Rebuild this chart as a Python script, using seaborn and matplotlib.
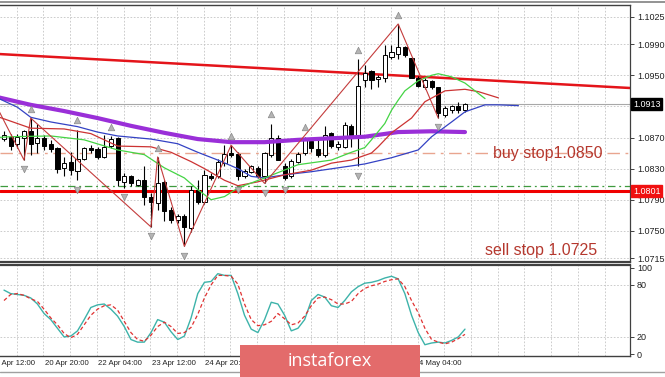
import numpy as np
import pandas as pd
import seaborn as sns
import matplotlib.pyplot as plt
from matplotlib.patches import Rectangle
from matplotlib.lines import Line2D

sns.set_theme(style='white')
plt.rcParams['font.family'] = ['Liberation Sans', 'DejaVu Sans']

# EURUSD H4 candles
opens = [1.0868, 1.0871, 1.0862, 1.0870, 1.0878, 1.0863, 1.0869, 1.0862, 1.0856, 1.0831,
         1.0838, 1.0827, 1.0843, 1.0857, 1.0855, 1.0845, 1.0859, 1.0869, 1.0813, 1.0820,
         1.0809, 1.0815, 1.0794, 1.0786, 1.0813, 1.0777, 1.0764, 1.0769, 1.0753, 1.0803,
         1.0787, 1.0821, 1.0820, 1.0837, 1.0850, 1.0849, 1.0820, 1.0826, 1.0831, 1.0820,
         1.0848, 1.0870, 1.0833, 1.0820, 1.0839, 1.0850, 1.0865, 1.0855, 1.0848, 1.0876,
         1.0858, 1.0858, 1.0885, 1.0873, 1.0944, 1.0955, 1.0945, 1.0947, 1.0973, 1.0978,
         1.0987, 1.0972, 1.0947, 1.0935, 1.0943, 1.0935, 1.0899, 1.0905, 1.0911, 1.0906]
highs = [1.0878, 1.0875, 1.0875, 1.0880, 1.0895, 1.0888, 1.0873, 1.0867, 1.0858, 1.0845,
         1.0852, 1.0880, 1.0858, 1.0860, 1.0858, 1.0873, 1.0872, 1.0871, 1.0824, 1.0822,
         1.0817, 1.0833, 1.0798, 1.0845, 1.0815, 1.0781, 1.0772, 1.0772, 1.0807, 1.0815,
         1.0828, 1.0824, 1.0843, 1.0860, 1.0860, 1.0852, 1.0830, 1.0835, 1.0833, 1.0852,
         1.0888, 1.0873, 1.0837, 1.0842, 1.0852, 1.0871, 1.0869, 1.0867, 1.0885, 1.0877,
         1.0865, 1.0890, 1.0887, 1.0971, 1.0963, 1.0957, 1.0951, 1.0989, 1.0989, 1.1016,
         1.0988, 1.0974, 1.0949, 1.0946, 1.0944, 1.0935, 1.0910, 1.0912, 1.0916, 1.0914]
lows = [1.0865, 1.0854, 1.0856, 1.0841, 1.0848, 1.0850, 1.0854, 1.0852, 1.0824, 1.0820,
        1.0822, 1.0815, 1.0841, 1.0850, 1.0843, 1.0844, 1.0856, 1.0807, 1.0805, 1.0807,
        1.0807, 1.0783, 1.0755, 1.0777, 1.0762, 1.0760, 1.0760, 1.0730, 1.0749, 1.0785,
        1.0785, 1.0815, 1.0818, 1.0833, 1.0845, 1.0815, 1.0818, 1.0824, 1.0818, 1.0811,
        1.0845, 1.0841, 1.0815, 1.0818, 1.0837, 1.0848, 1.0852, 1.0845, 1.0845, 1.0856,
        1.0854, 1.0856, 1.0858, 1.0833, 1.0935, 1.0933, 1.0935, 1.0942, 1.0971, 1.0971,
        1.0973, 1.0946, 1.0935, 1.0933, 1.0932, 1.0895, 1.0896, 1.0901, 1.0901, 1.0903]
closes = [1.0873, 1.0859, 1.0871, 1.0878, 1.0862, 1.0870, 1.0859, 1.0855, 1.0830, 1.0837,
          1.0828, 1.0843, 1.0856, 1.0854, 1.0845, 1.0858, 1.0868, 1.0815, 1.0821, 1.0811,
          1.0815, 1.0794, 1.0787, 1.0812, 1.0775, 1.0764, 1.0769, 1.0755, 1.0803, 1.0787,
          1.0822, 1.0818, 1.0838, 1.0849, 1.0848, 1.0820, 1.0827, 1.0833, 1.0820, 1.0850,
          1.0870, 1.0841, 1.0818, 1.0840, 1.0849, 1.0867, 1.0856, 1.0848, 1.0873, 1.0859,
          1.0862, 1.0886, 1.0873, 1.0936, 1.0953, 1.0944, 1.0948, 1.0976, 1.0980, 1.0987,
          1.0976, 1.0947, 1.0936, 1.0944, 1.0935, 1.0901, 1.0908, 1.0910, 1.0905, 1.0913]

# moving average (thick purple)
ma_bar = [-1, 4, 9, 14, 19, 24, 29, 34, 39, 44, 49, 54, 59, 64, 69]
ma_val = [1.0922, 1.0912, 1.0904, 1.0895, 1.0885, 1.0876, 1.0868, 1.0864, 1.0864, 1.0867,
          1.0869, 1.0871, 1.0877, 1.0878, 1.0877]

# alligator: jaw (blue), teeth (red), lips (green)
jaw_bar = [-1, 2, 4, 7, 11, 14, 17, 22, 26, 29, 32, 35, 37, 39, 42, 46, 50, 54, 58, 62,
           64, 67, 69, 72, 74, 77]
jaw_val = [1.0921, 1.0909, 1.0896, 1.0890, 1.0884, 1.0877, 1.0872, 1.0868, 1.0862, 1.0851,
           1.0841, 1.0830, 1.0820, 1.0818, 1.0822, 1.0826, 1.0831, 1.0836, 1.0844, 1.0854,
           1.0871, 1.0890, 1.0903, 1.0912, 1.0912, 1.0911]
teeth_bar = [-1, 4, 9, 13, 17, 22, 25, 28, 30, 33, 35, 38, 42, 46, 49, 52, 55, 56, 58, 61,
             63, 66, 69, 71, 74]
teeth_val = [1.0897, 1.0882, 1.0881, 1.0875, 1.0859, 1.0858, 1.0851, 1.0839, 1.0830, 1.0815,
             1.0808, 1.0813, 1.0822, 1.0828, 1.0837, 1.0841, 1.0850, 1.0858, 1.0876, 1.0895,
             1.0916, 1.0930, 1.0932, 1.0929, 1.0921]
lips_bar = [-1, 1, 7, 12, 17, 21, 24, 27, 29, 31, 33, 35, 39, 44, 49, 52, 54, 55, 57, 58,
            59, 60, 62, 64, 65, 67, 69, 72]
lips_val = [1.0870, 1.0871, 1.0872, 1.0867, 1.0854, 1.0848, 1.0831, 1.0818, 1.0803, 1.0790,
            1.0794, 1.0805, 1.0818, 1.0835, 1.0841, 1.0851, 1.0857, 1.0867, 1.0888, 1.0905,
            1.0918, 1.0930, 1.0943, 1.0950, 1.0952, 1.0948, 1.0940, 1.0920]

# zigzag turning points
zz_bar = [-2, 3, 4, 22, 23, 27, 34, 39, 59, 65]
zz_val = [1.0925, 1.0841, 1.0895, 1.0755, 1.0845, 1.0730, 1.0860, 1.0811, 1.1016, 1.0895]

# fractals
frac_up = [4, 11, 16, 23, 34, 40, 45, 53, 59]
frac_dn = [3, 11, 18, 22, 27, 35, 39, 42, 53, 65]

# levels
trend_bar = [0, 93]
trend_val = [1.0977, 1.0934]
support = 1.0801
green_level = 1.0807
buy_stop = 1.0850
sell_stop = 1.0725
last_price = 1.0913

grid_prices = [1.1025, 1.0990, 1.0950, 1.0910, 1.0870, 1.0830, 1.0790, 1.0750, 1.0715]
price_ticks = [1.1025, 1.0990, 1.0950, 1.0870, 1.0830, 1.0790, 1.0750, 1.0715]

# stochastic
stoch_main = [74, 70, 69, 68, 65, 58, 47, 40, 30, 20, 21, 27, 40, 54, 57, 58, 52, 44, 32, 17,
              14, 14, 25, 40, 37, 26, 17, 21, 42, 70, 83, 84, 93, 91, 91, 70, 45, 29, 25, 40,
              60, 58, 45, 27, 30, 40, 62, 69, 66, 56, 54, 62, 72, 78, 82, 83, 85, 88, 90, 87,
              70, 45, 25, 11, 13, 14, 13, 16, 20, 29]
stoch_signal = [62, 69, 70, 68, 64, 61, 52, 42, 34, 24, 19, 23, 34, 45, 52, 56, 57, 51, 38, 25,
                17, 15, 22, 32, 37, 32, 24, 25, 31, 46, 65, 80, 91, 91, 90, 81, 58, 40, 33, 34,
                38, 47, 41, 34, 36, 44, 56, 65, 66, 63, 58, 58, 61, 70, 76, 79, 81, 84, 86, 87,
                78, 62, 48, 30, 17, 14, 12, 14, 18, 23]

# time scale labels that are visible (others sit under the watermark)
time_labels = ['17 Apr 12:00', '20 Apr 20:00', '22 Apr 04:00', '23 Apr 12:00',
               '24 Apr 20:00', '4 May 04:00']
time_bars = [-2.1, 5.9, 13.9, 21.9, 29.9, 61.9]

df = pd.DataFrame({'bar': np.arange(len(opens)), 'open': opens, 'high': highs,
                   'low': lows, 'close': closes})
stoch = pd.DataFrame({'bar': df['bar'], 'main': stoch_main, 'signal': stoch_signal})

fig = plt.figure(figsize=(6.65, 3.77), dpi=100)
W = 630 / 665
ax = fig.add_axes([0, 1 - 262 / 377, W, 257 / 377])
ax2 = fig.add_axes([0, 1 - 356 / 377, W, 91 / 377])

grid_kw = dict(color='#c4c4c4', lw=0.6, ls=(0, (2, 2)))
xmin, xmax = -0.6, 93.7
grid_x = np.arange(1.9, xmax, 4)

# ---- price panel ----
for p in grid_prices:
    ax.axhline(p, zorder=0, **grid_kw)
for gx in grid_x:
    ax.axvline(gx, zorder=0, **grid_kw)

ax.axhline(last_price, color='#a8a8a8', lw=0.8, zorder=1)
ax.axhline(buy_stop, color='#e9a58f', lw=1.0, ls=(0, (9, 4, 2, 4)), zorder=1)
ax.axhline(green_level, color='#3e9a3e', lw=0.9, ls=(0, (6, 3, 1.5, 3)), zorder=1)
ax.axhline(support, color='#f00000', lw=2.2, zorder=2)
ax.axline((trend_bar[0], trend_val[0]), (trend_bar[1], trend_val[1]),
          color='#e4141a', lw=1.8, zorder=2)

up = df['close'] >= df['open']
ax.vlines(df['bar'], df['low'], df['high'], color='black', lw=0.8, zorder=4)
body = (df['close'] - df['open']).abs().clip(lower=0.00004)
ax.bar(df['bar'], body, bottom=df[['open', 'close']].min(axis=1), width=0.62,
       color=np.where(up, 'white', 'black'), edgecolor='black', lw=0.7, zorder=5)

sns.lineplot(x=ma_bar, y=ma_val, ax=ax, color='#9a2fd8', lw=3.0, zorder=6)
sns.lineplot(x=jaw_bar, y=jaw_val, ax=ax, color='#3442c4', lw=0.9, zorder=6)
sns.lineplot(x=teeth_bar, y=teeth_val, ax=ax, color='#cc3333', lw=0.9, zorder=6)
sns.lineplot(x=lips_bar, y=lips_val, ax=ax, color='#44d444', lw=0.9, zorder=6)
sns.lineplot(x=zz_bar, y=zz_val, ax=ax, color='#c43c3c', lw=0.8, zorder=6, sort=False)

off = 0.0012
ax.scatter(frac_up, df['high'].iloc[frac_up] + off, marker='^', s=22,
           color='#b4b4b4', edgecolor='#8a8a8a', lw=0.5, zorder=7)
ax.scatter(frac_dn, df['low'].iloc[frac_dn] - off, marker='v', s=22,
           color='#b4b4b4', edgecolor='#8a8a8a', lw=0.5, zorder=7)

ax.text(73.2, buy_stop, 'buy stop1.0850', color='#b5382e', fontsize=11.5,
        ha='left', va='center', zorder=8)
ax.text(72.0, sell_stop, 'sell stop 1.0725', color='#b5382e', fontsize=11.5,
        ha='left', va='center', zorder=8)

ax.set_xlim(xmin, xmax)
ax.set_ylim(1.07099, 1.10404)
ax.yaxis.tick_right()
ax.set_yticks(price_ticks)
ax.set_yticklabels([f'{p:.4f}' for p in price_ticks], fontsize=6.5)
ax.tick_params(axis='y', length=3, width=0.6, pad=2, colors='#222222', right=True)
ax.set_xticks([])
ax.set_xlabel('')
ax.set_ylabel('')

for val, fc in [(last_price, 'black'), (support, '#f01010')]:
    ax.annotate(f'{val:.4f}', xy=(1, val), xycoords=('axes fraction', 'data'),
                xytext=(2.2, 0), textcoords='offset points', ha='left', va='center',
                fontsize=6.5, color='white', zorder=9, annotation_clip=False,
                bbox=dict(boxstyle='square,pad=0.18', fc=fc, ec=fc))

# ---- stochastic panel ----
for lv in [80, 20]:
    ax2.axhline(lv, zorder=0, **grid_kw)
for gx in grid_x:
    ax2.axvline(gx, zorder=0, **grid_kw)
sns.lineplot(data=stoch, x='bar', y='main', ax=ax2, color='#3db3aa', lw=1.0)
sns.lineplot(data=stoch, x='bar', y='signal', ax=ax2, color='#e03232', lw=0.9,
             linestyle=(0, (3, 2)))
ax2.set_xlim(xmin, xmax)
ax2.set_ylim(-2, 103)
ax2.yaxis.tick_right()
ax2.set_yticks([100, 80, 20, 0])
ax2.set_yticklabels(['100', '80', '20', '0'], fontsize=6.5)
ax2.tick_params(axis='y', length=3, width=0.6, pad=2, colors='#222222', right=True)
ax2.set_xticks([])
ax2.set_xlabel('')
ax2.set_ylabel('')

for pos, lab in zip(time_bars, time_labels):
    ax2.annotate(lab, xy=(pos, 0), xycoords=('data', 'axes fraction'),
                 xytext=(1, -3), textcoords='offset points', ha='left', va='top',
                 fontsize=5.6, color='#222222', annotation_clip=False)

for a, bottom_lw, top_lw in [(ax, 1.6, 1.0), (ax2, 1.0, 1.6)]:
    a.spines['left'].set_visible(False)
    a.spines['right'].set_color('#404040')
    a.spines['right'].set_linewidth(0.9)
    a.spines['top'].set_color('#404040')
    a.spines['top'].set_linewidth(top_lw)
    a.spines['bottom'].set_color('#404040')
    a.spines['bottom'].set_linewidth(bottom_lw)

fig.add_artist(Line2D([0, 1], [1 - 2 / 377] * 2, color='#808080', lw=1.2))
fig.add_artist(Line2D([0, 1], [1 - 372 / 377] * 2, color='#a0a0a0', lw=1.0))

# watermark
fig.add_artist(Rectangle((240 / 665, 0), 180 / 665, 32 / 377, transform=fig.transFigure,
                         fc='#e36b6b', ec='none', zorder=10))
fig.text(330 / 665, 16 / 377, 'instaforex', color='white', fontsize=13, ha='center',
         va='center', family=['Open Sans', 'DejaVu Sans'], zorder=11)

fig.savefig('out.png', dpi=100)
